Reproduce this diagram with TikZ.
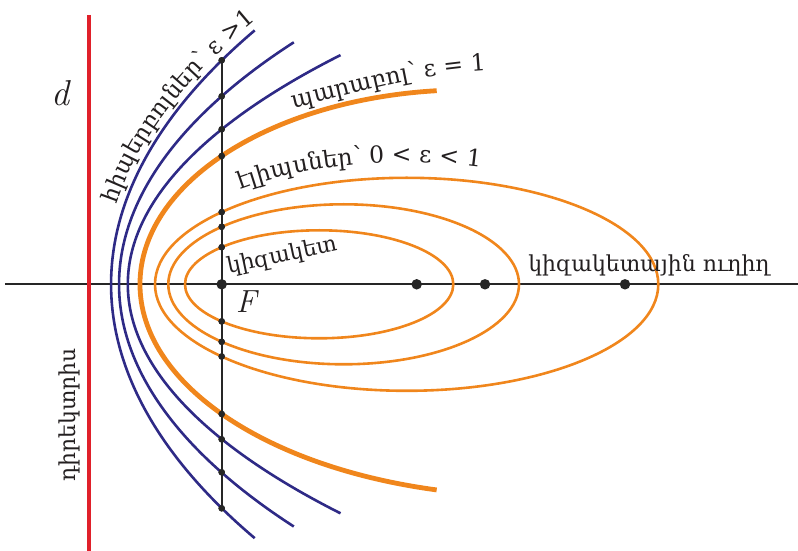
\documentclass[tikz,border=0pt]{standalone}
\usepackage{fontspec}
\usetikzlibrary{decorations.text}
\newfontfamily\armfont{DejaVu Serif}
\definecolor{hypblue}{HTML}{2E2A86}
\definecolor{conorange}{HTML}{F0861C}
\definecolor{dirred}{HTML}{E0202A}
\definecolor{dotgray}{HTML}{262626}
\definecolor{labgray}{HTML}{231F20}
\newcommand{\armsize}{\armfont\fontsize{22}{22}\selectfont}
\newcommand{\armcurve}{\armfont\fontsize{23.5}{23.5}\selectfont}
\begin{document}
\begin{tikzpicture}[x=1pt,y=1pt,
  hyp/.style={draw=hypblue, line width=2.6pt},
  ell/.style={draw=conorange, line width=2.6pt},
  par/.style={draw=conorange, line width=4.8pt},
  axisline/.style={draw=dotgray, line width=1.8pt},
  vline/.style={draw=dotgray, line width=1.8pt},
  dirline/.style={draw=dirred, line width=3.8pt},
  dotS/.style={circle, fill=dotgray, inner sep=0pt, minimum size=6.5pt},
  dotL/.style={circle, fill=dotgray, inner sep=0pt, minimum size=10.5pt},
  lab/.style={font=\armsize, text=labgray, inner sep=0pt},
  letter/.style={text=labgray, inner sep=0pt},
  curvelab/.style={decorate, decoration={text along path, text align=center,
     text color=labgray, text={|\armcurve|#1}}},
]
\useasboundingbox (-221.7,-266.7) rectangle (576.3,284.3);

% focal axis
\coordinate (axL) at (-216.7,0);
\coordinate (axR) at (576.3,0);
\draw[axisline] (axL) -- (axR);

% directrix
\coordinate (dT) at (-132.7,269.3);
\coordinate (dB) at (-132.7,-266.7);
\draw[dirline] (dT) -- (dB);

% ellipses
\draw[ell] (97.45,0) ellipse [x radius=134.15, y radius=54];
\draw[ell] (121.95,0) ellipse [x radius=175.35, y radius=80];
\draw[ell] (184.95,0) ellipse [x radius=251.65, y radius=106.5];

% parabola
\coordinate (pT) at (215,193.6);
\draw[par] (pT) arc[start angle=95.64, end angle=180, x radius=329.05, y radius=194.5]
  arc[start angle=180, end angle=256.09, x radius=390.58, y radius=211.9];

% hyperbolas
\coordinate (h1T) at (33,253.9);
\coordinate (h2T) at (72.1,242);
\coordinate (h3T) at (118.8,229.2);
\draw[hyp] (h1T) arc[start angle=156.93, end angle=180, x radius=1795.4, y radius=647.9]
  arc[start angle=180, end angle=203.07, x radius=1795.4, y radius=647.9];
\draw[hyp] (h2T) arc[start angle=150.58, end angle=180, x radius=1354.7, y radius=492.9]
  arc[start angle=180, end angle=209.42, x radius=1354.7, y radius=492.9];
\draw[hyp] (h3T) arc[start angle=151.77, end angle=180, x radius=1787.7, y radius=484.4]
  arc[start angle=180, end angle=208.23, x radius=1787.7, y radius=484.4];

% vertical line through focus and its dots
\node[dotS] (u1) at (0,224) {};
\node[dotS] (u2) at (0,188) {};
\node[dotS] (u3) at (0,155) {};
\node[dotS] (u4) at (0,128.3) {};
\node[dotS] (u5) at (0,72.2) {};
\node[dotS] (u6) at (0,57.5) {};
\node[dotS] (u7) at (0,37.1) {};
\node[dotS] (l7) at (0,-37.1) {};
\node[dotS] (l6) at (0,-57.5) {};
\node[dotS] (l5) at (0,-72.2) {};
\node[dotS] (l4) at (0,-129.7) {};
\node[dotS] (l3) at (0,-155) {};
\node[dotS] (l2) at (0,-188) {};
\node[dotS] (l1) at (0,-224) {};
\draw[vline] (u1.center) -- (l1.center);
\foreach \n in {u1,u2,u3,u4,u5,u6,u7,l7,l6,l5,l4,l3,l2,l1} {\fill[dotgray] (\n) circle (3.25pt);}

% focus and second foci
\node[dotL] (F) at (0,0) {};
\node[dotL] (f1) at (195,0) {};
\node[dotL] (f2) at (263.3,0) {};
\node[dotL] (f3) at (403.3,0) {};

% curved labels
\coordinate (hlS) at (-108.8,69.4);
\path[curvelab={հիպերբոլներ՝ ε >1}] (hlS)
  arc[start angle=173.92, end angle=155.6, x radius=1803.4, y radius=655.9];
\coordinate (plS) at (63.3,174.3);
\coordinate (plE) at (273.3,214.3);
\path[curvelab={պարաբոլ՝ ε = 1}] (plS) to[out=13, in=183] (plE);
\coordinate (elS) at (12.9,92.9);
\path[curvelab={էլիպսներ՝ 0 < ε < 1}] (elS)
  arc[start angle=130.4, end angle=72.5, x radius=265.65, y radius=122];

% straight labels
\node[lab, rotate=12] (foclab) at (60.3,28) {կիզակետ};
\node[lab] (axlab) at (427.3,19.3) {կիզակետային ուղիղ};
\node[lab, rotate=90] (dirlab) at (-152.7,-130.7) {դիրեկտրիս};
\node[letter, font=\fontsize{36}{36}\selectfont\itshape] (dlab) at (-160.7,191) {d};
\node[letter, font=\fontsize{32}{32}\selectfont\itshape] (Flab) at (24.3,-17.2) {F};
\end{tikzpicture}
\end{document}
